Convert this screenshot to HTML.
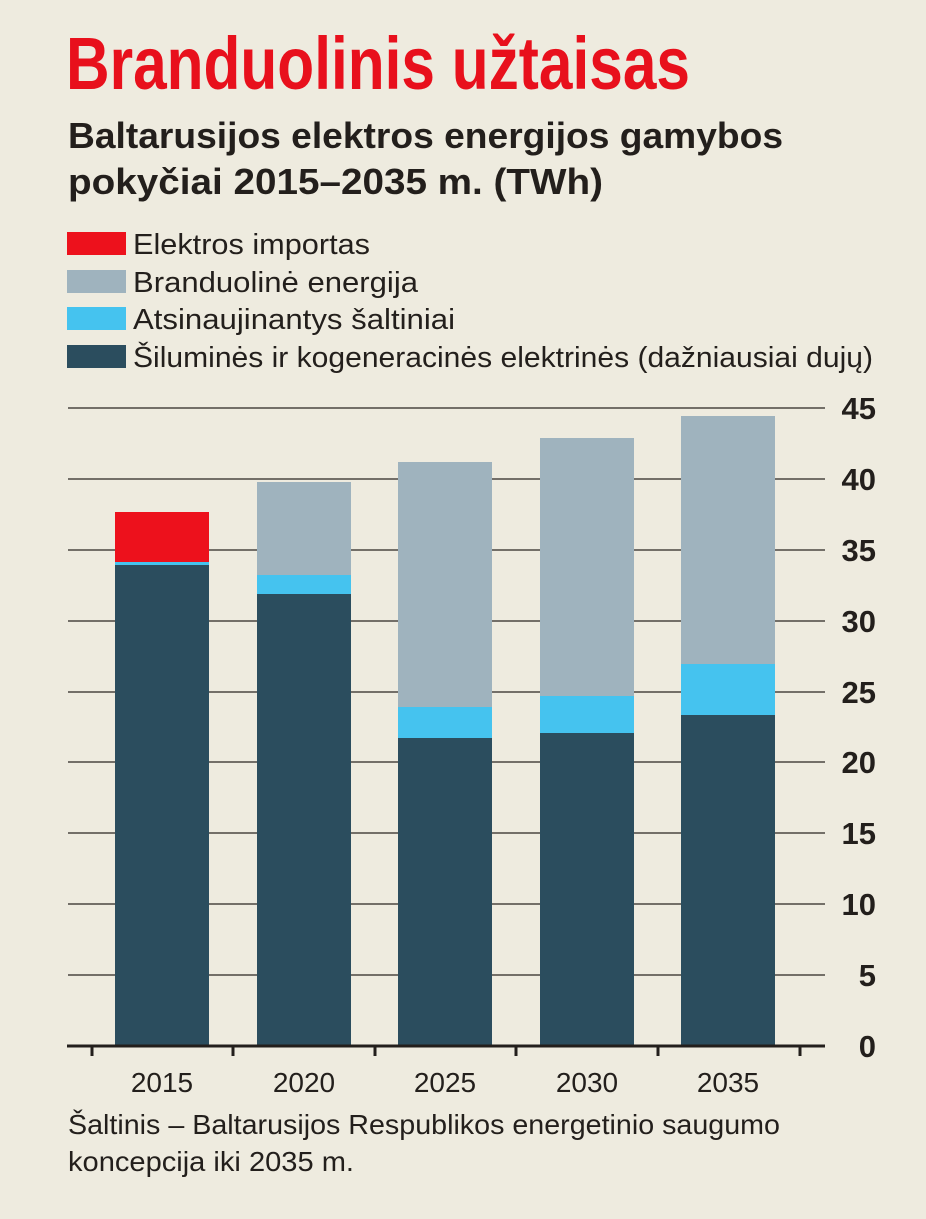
<!DOCTYPE html>
<html><head><meta charset="utf-8"><style>
html,body{margin:0;padding:0;background:#eeebdf;}
svg{display:block}
text{font-family:"Liberation Sans Narrow","Liberation Sans",sans-serif;fill:#231f1c}
</style></head><body>
<svg width="926" height="1219" viewBox="0 0 926 1219" xmlns="http://www.w3.org/2000/svg">
<rect width="926" height="1219" fill="#eeebdf"/>
<text x="66" y="89" font-size="74" font-weight="bold" style="fill:#e8101c" textLength="624" lengthAdjust="spacingAndGlyphs">Branduolinis užtaisas</text>
<text x="68" y="148" font-size="36" font-weight="bold" textLength="715" lengthAdjust="spacingAndGlyphs">Baltarusijos elektros energijos gamybos</text>
<text x="68" y="194" font-size="36" font-weight="bold" textLength="535" lengthAdjust="spacingAndGlyphs">pokyčiai 2015–2035 m. (TWh)</text>
<rect x="67" y="232" width="59" height="23" fill="#ed111c"/>
<rect x="67" y="270" width="59" height="23" fill="#9fb3be"/>
<rect x="67" y="307" width="59" height="23" fill="#45c3ef"/>
<rect x="67" y="345" width="59" height="23" fill="#2b4d5e"/>
<text x="133" y="254" font-size="29" textLength="237" lengthAdjust="spacingAndGlyphs">Elektros importas</text>
<text x="133" y="292" font-size="29" textLength="285" lengthAdjust="spacingAndGlyphs">Branduolinė energija</text>
<text x="133" y="329" font-size="29" textLength="322" lengthAdjust="spacingAndGlyphs">Atsinaujinantys šaltiniai</text>
<text x="133" y="367" font-size="29" textLength="740" lengthAdjust="spacingAndGlyphs">Šiluminės ir kogeneracinės elektrinės (dažniausiai dujų)</text>
<g stroke="#4a4640" stroke-width="1.5">
<line x1="68" y1="408" x2="825" y2="408"/>
<line x1="68" y1="479" x2="825" y2="479"/>
<line x1="68" y1="550" x2="825" y2="550"/>
<line x1="68" y1="621" x2="825" y2="621"/>
<line x1="68" y1="692" x2="825" y2="692"/>
<line x1="68" y1="762" x2="825" y2="762"/>
<line x1="68" y1="833" x2="825" y2="833"/>
<line x1="68" y1="904" x2="825" y2="904"/>
<line x1="68" y1="975" x2="825" y2="975"/>
</g>
<!-- bars -->
<rect x="115" y="512" width="94" height="50" fill="#ed111c"/>
<rect x="115" y="562" width="94" height="3" fill="#45c3ef"/>
<rect x="115" y="565" width="94" height="481" fill="#2b4d5e"/>
<rect x="257" y="482" width="94" height="93" fill="#9fb3be"/>
<rect x="257" y="575" width="94" height="19" fill="#45c3ef"/>
<rect x="257" y="594" width="94" height="452" fill="#2b4d5e"/>
<rect x="398" y="462" width="94" height="245" fill="#9fb3be"/>
<rect x="398" y="707" width="94" height="31" fill="#45c3ef"/>
<rect x="398" y="738" width="94" height="308" fill="#2b4d5e"/>
<rect x="540" y="438" width="94" height="258" fill="#9fb3be"/>
<rect x="540" y="696" width="94" height="37" fill="#45c3ef"/>
<rect x="540" y="733" width="94" height="313" fill="#2b4d5e"/>
<rect x="681" y="416" width="94" height="248" fill="#9fb3be"/>
<rect x="681" y="664" width="94" height="51" fill="#45c3ef"/>
<rect x="681" y="715" width="94" height="331" fill="#2b4d5e"/>
<g stroke="#231f1c" stroke-width="3">
<line x1="67" y1="1046" x2="825" y2="1046"/>
<line x1="92" y1="1046" x2="92" y2="1056"/>
<line x1="233" y1="1046" x2="233" y2="1056"/>
<line x1="375" y1="1046" x2="375" y2="1056"/>
<line x1="516" y1="1046" x2="516" y2="1056"/>
<line x1="658" y1="1046" x2="658" y2="1056"/>
<line x1="800" y1="1046" x2="800" y2="1056"/>
</g>
<g font-size="31" font-weight="bold" text-anchor="end">
<text x="876" y="419">45</text>
<text x="876" y="490">40</text>
<text x="876" y="561">35</text>
<text x="876" y="632">30</text>
<text x="876" y="703">25</text>
<text x="876" y="773">20</text>
<text x="876" y="844">15</text>
<text x="876" y="915">10</text>
<text x="876" y="986">5</text>
<text x="876" y="1057">0</text>
</g>
<g font-size="28" text-anchor="middle">
<text x="162" y="1092">2015</text>
<text x="304" y="1092">2020</text>
<text x="445" y="1092">2025</text>
<text x="587" y="1092">2030</text>
<text x="728" y="1092">2035</text>
</g>
<text x="68" y="1134" font-size="28" textLength="712" lengthAdjust="spacingAndGlyphs">Šaltinis – Baltarusijos Respublikos energetinio saugumo</text>
<text x="68" y="1171" font-size="28" textLength="286" lengthAdjust="spacingAndGlyphs">koncepcija iki 2035 m.</text>
</svg>
</body></html>
